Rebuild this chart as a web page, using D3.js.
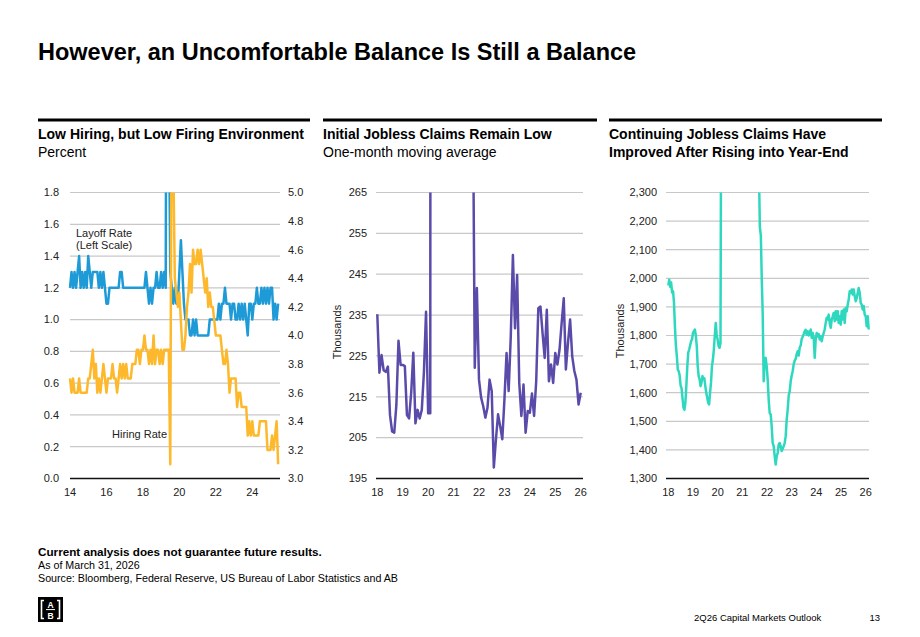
<!DOCTYPE html>
<html><head><meta charset="utf-8">
<script src="https://cdn.jsdelivr.net/npm/d3@7"></script>
<style>
body{margin:0;background:#fff;}
svg{display:block;font-family:"Liberation Sans",Arial,sans-serif;}
</style></head>
<body><svg id="c" width="920" height="637"></svg>
<script>
// ---------- DATA ----------
// Chart 1: monthly, starting Jan 2014 (index = months)
const layoffRate = [
1.2,1.3,1.2,1.3,1.2,1.3,1.4,1.2,1.3,1.2,1.3,1.2,
1.4,1.3,1.2,1.3,1.3,1.3,1.3,1.2,1.3,1.2,1.3,1.2,
1.1,1.1,1.2,1.2,1.2,1.2,1.2,1.2,1.2,1.3,1.3,1.2,
1.2,1.2,1.2,1.2,1.2,1.2,1.2,1.2,1.2,1.2,1.2,1.2,
1.2,1.2,1.3,1.2,1.1,1.2,1.1,1.2,1.2,1.3,1.2,1.2,
1.3,1.2,1.3,1.2,5.0,2.5,1.3,1.2,1.1,1.2,1.1,1.1,
1.3,1.5,1.3,1.1,1.0,1.0,1.0,0.9,0.9,1.0,0.9,1.0,
0.9,0.9,0.9,0.9,0.9,0.9,0.9,0.9,1.0,1.0,1.0,1.0,
1.0,1.0,1.1,1.0,1.1,1.1,1.2,1.1,1.1,1.1,1.0,1.1,
1.1,1.0,1.0,1.1,1.0,1.1,1.0,1.1,1.0,0.9,1.1,1.1,
1.0,1.1,1.1,1.2,1.1,1.1,1.2,1.1,1.2,1.1,1.2,1.1,
1.2,1.2,1.0,1.1,1.0,1.1];
const hiringRate = [
3.7,3.6,3.7,3.6,3.6,3.6,3.7,3.6,3.6,3.6,3.6,3.6,
3.7,3.7,3.8,3.9,3.7,3.8,3.6,3.7,3.6,3.7,3.8,3.7,
3.6,3.7,3.7,3.7,3.8,3.7,3.7,3.6,3.7,3.8,3.7,3.8,
3.7,3.8,3.7,3.7,3.7,3.8,3.8,3.8,3.9,3.9,3.8,3.9,
3.9,4.0,3.9,3.9,3.8,3.9,3.8,4.0,3.8,3.9,3.9,3.8,
3.9,3.8,3.9,3.9,3.9,3.9,3.1,6.0,5.2,4.4,4.3,4.2,
4.3,4.1,3.9,3.9,4.0,4.2,4.3,4.5,4.3,4.6,4.5,4.5,
4.6,4.5,4.6,4.5,4.4,4.3,4.4,4.2,4.3,4.2,4.2,4.1,
4.0,4.0,4.0,4.0,3.9,3.8,3.8,3.9,3.8,3.6,3.7,3.7,
3.7,3.7,3.5,3.6,3.6,3.5,3.5,3.5,3.5,3.3,3.4,3.3,
3.4,3.3,3.3,3.3,3.3,3.4,3.4,3.4,3.4,3.4,3.2,3.2,
3.2,3.3,3.2,3.3,3.4,3.1];
const c1LeftTicks = [0.0,0.2,0.4,0.6,0.8,1.0,1.2,1.4,1.6,1.8];
const c1RightTicks = [3.0,3.2,3.4,3.6,3.8,4.0,4.2,4.4,4.6,4.8,5.0];
const c1XTicks = [14,16,18,20,22,24];

// Chart 2: initial claims, monthly from Jan 2018 (thousands)
const initialClaims = [
235.2,220.9,225.2,221.5,221.1,222.4,210.5,206.5,206.2,213.0,228.7,222.8,
222.8,222.5,210.5,209.7,216.0,225.8,208.5,211.8,209.7,211.8,221.0,235.8,
211.0,211.0,1500,5000,2500,1550,1400,1000,870,790,740,820,
850,790,720,590,480,400,390,360,340,300,
222.1,241.6,219.2,214.8,212.7,209.9,212.3,219.2,216.4,197.7,204.6,210.7,
207.8,204.6,214.3,225.7,216.4,229.8,249.7,231.8,244.8,218.4,210.3,218.0,
206.2,211.5,211.1,215.8,210.3,218.8,236.7,237.1,230.6,224.5,236.3,218.8,
222.9,218.4,225.7,222.9,226.5,233.0,239.1,221.7,228.2,233.9,224.9,221.3,
219.2,213.1,216.0];
const c2YTicks = [195,205,215,225,235,245,255,265];
const c2XTicks = [18,19,20,21,22,23,24,25,26];

// Chart 3: continuing claims (thousands), roughly bi-weekly
const contClaimsA = [ // from start of 2018
1975,1995,1970,1985,1950,1955,1915,1830,1765,1728,1681,1675,1660,1625,
1615,1580,1548,1540,1565,1623,1690,1740,1751,1765,1780,1786,1809,1815,
1821,1800,1763,1693,1658,1647,1623,1635,1658,1647,1650,1623,1600,1583,
1565,1559,1600,1635,1693,1716,1751,1800,1844,1800,1786,1763,1757,1774];
const contClaimsSpikeDates = [20.154,20.2,20.3,20.4,20.5,20.6,20.75,20.9,21.0,21.2,21.4,21.55,21.66,21.71,21.75,21.79];
const contClaimsSpike = [3000,12000,20000,22000,17000,14000,11000,6500,5000,4200,3700,3000,2450,2180,2150,1990];
const contClaimsB = [ // from late 2021
1879,1640,1716,1722,1692,1646,1576,1529,1524,1483,1424,1413,1378,1349,
1378,1389,1419,1424,1413,1396,1405,1413,1424,1448,1506,1541,1590,1605,
1640,1660,1675,1700,1712,1718,1735,1745,1730,1758,1765,1788,1795,1805,
1815,1820,1803,1815,1800,1809,1821,1792,1809,1792,1722,1786,1809,1797,
1805,1786,1797,1780,1797,1809,1821,1844,1862,1856,1873,1844,1827,1856,
1867,1879,1850,1885,1856,1885,1844,1867,1838,1885,1856,1891,1844,1896,
1885,1908,1926,1955,1949,1961,1943,1961,1937,1920,1931,1949,1966,1949,
1914,1908,1891,1903,1873,1867,1832,1867,1821];
const c3YTicks = [1300,1400,1500,1600,1700,1800,1900,2000,2100,2200,2300];
const c3XTicks = [18,19,20,21,22,23,24,25,26];

// ---------- DRAW ----------
const svg = d3.select("#c");
const TOP = 192.5, BOT = 478.5;
const gridCol = "#c8c8c8", txtCol = "#222";

// Title
svg.append("text").attr("x",38).attr("y",60).attr("font-size",23.5).attr("font-weight","bold")
  .attr("fill","#000").text("However, an Uncomfortable Balance Is Still a Balance");

// Section rules + subtitles
const sections = [
  {x0:38,x1:310,lines:[["Low Hiring, but Low Firing Environment",true],["Percent",false]]},
  {x0:323,x1:597,lines:[["Initial Jobless Claims Remain Low",true],["One-month moving average",false]]},
  {x0:609,x1:882,lines:[["Continuing Jobless Claims Have",true],["Improved After Rising into Year-End",true]]}
];
sections.forEach(s=>{
  svg.append("line").attr("x1",s.x0).attr("x2",s.x1).attr("y1",120).attr("y2",120)
    .attr("stroke","#000").attr("stroke-width",3);
  s.lines.forEach((l,i)=>{
    svg.append("text").attr("x",s.x0).attr("y",139+i*18).attr("font-size",14)
      .attr("font-weight",l[1]?"bold":"normal").attr("fill","#000").text(l[0]);
  });
});

const defs = svg.append("defs");
function clip(id,x0,x1){
  defs.append("clipPath").attr("id",id).append("rect")
    .attr("x",x0).attr("y",TOP).attr("width",x1-x0).attr("height",BOT-TOP+5);
}

function grid(g, y, ticks, x0, x1){
  ticks.forEach(t=>{
    g.append("line").attr("x1",x0).attr("x2",x1).attr("y1",y(t)).attr("y2",y(t))
      .attr("stroke", t===ticks[0] ? "#111" : gridCol)
      .attr("stroke-width", t===ticks[0] ? 1.6 : 1.2);
  });
}
function yLabels(g, y, ticks, x, anchor, fmt){
  ticks.forEach(t=>{
    g.append("text").attr("x",x).attr("y",y(t)).attr("dy","0.35em").attr("text-anchor",anchor)
      .attr("font-size",11).attr("fill",txtCol).text(fmt(t));
  });
}
function xLabels(g, x, ticks){
  ticks.forEach(t=>{
    g.append("text").attr("x",x(t)).attr("y",496).attr("text-anchor","middle")
      .attr("font-size",11).attr("fill",txtCol).text(t);
  });
}

// ----- Chart 1 -----
{
  const g = svg.append("g");
  const x = d3.scaleLinear().domain([14,24]).range([70,252.3]);
  const yL = d3.scaleLinear().domain([0,1.8]).range([BOT,TOP]);
  const yR = d3.scaleLinear().domain([3,5]).range([BOT,TOP]);
  grid(g, yL, c1LeftTicks, 70, 280);
  yLabels(g, yL, c1LeftTicks, 59, "end", d3.format(".1f"));
  yLabels(g, yR, c1RightTicks, 288, "start", d3.format(".1f"));
  xLabels(g, x, c1XTicks);
  clip("clip1", 64, 286);
  const lg = g.append("g").attr("clip-path","url(#clip1)");
  lg.append("path").datum(layoffRate)
    .attr("d", d3.line().x((d,i)=>x(14+i/12)).y(d=>yL(d)))
    .attr("fill","none").attr("stroke","#1E9BD7").attr("stroke-width",2.5).attr("stroke-linejoin","round");
  lg.append("path").datum(hiringRate)
    .attr("d", d3.line().x((d,i)=>x(14+i/12)).y(d=>yR(d)))
    .attr("fill","none").attr("stroke","#FDB92B").attr("stroke-width",2.5).attr("stroke-linejoin","round");
  g.append("text").attr("x",76).attr("y",237).attr("font-size",11).attr("fill",txtCol).text("Layoff Rate");
  g.append("text").attr("x",76).attr("y",249).attr("font-size",11).attr("fill",txtCol).text("(Left Scale)");
  g.append("text").attr("x",112).attr("y",438).attr("font-size",11).attr("fill",txtCol).text("Hiring Rate");
}

// ----- Chart 2 -----
{
  const g = svg.append("g");
  const x = d3.scaleLinear().domain([18,26]).range([377.3,580.7]);
  const y = d3.scaleLinear().domain([195,265]).range([BOT,TOP]);
  grid(g, y, c2YTicks, 376, 583);
  yLabels(g, y, c2YTicks, 367, "end", d=>d);
  xLabels(g, x, c2XTicks);
  g.append("text").attr("transform","translate(341,332) rotate(-90)").attr("text-anchor","middle")
    .attr("font-size",11).attr("fill",txtCol).text("Thousands");
  clip("clip2", 370, 590);
  g.append("g").attr("clip-path","url(#clip2)").append("path").datum(initialClaims)
    .attr("d", d3.line().x((d,i)=>x(18+i/12)).y(d=>y(d)))
    .attr("fill","none").attr("stroke","#5A4BAA").attr("stroke-width",2.5).attr("stroke-linejoin","round");
}

// ----- Chart 3 -----
{
  const g = svg.append("g");
  const x = d3.scaleLinear().domain([18,26]).range([668.3,865.7]);
  const y = d3.scaleLinear().domain([1300,2300]).range([BOT,TOP]);
  grid(g, y, c3YTicks, 666, 869);
  yLabels(g, y, c3YTicks, 657, "end", d3.format(","));
  xLabels(g, x, c3XTicks);
  g.append("text").attr("transform","translate(624,331) rotate(-90)").attr("text-anchor","middle")
    .attr("font-size",11).attr("fill",txtCol).text("Thousands");
  const pts = [];
  contClaimsA.forEach((v,i)=>pts.push([18+i/26, v]));
  contClaimsSpike.forEach((v,i)=>pts.push([contClaimsSpikeDates[i], v]));
  contClaimsB.forEach((v,i)=>pts.push([21.825+i*3/74, v]));
  clip("clip3", 660, 876);
  g.append("g").attr("clip-path","url(#clip3)").append("path").datum(pts)
    .attr("d", d3.line().x(d=>x(d[0])).y(d=>y(d[1])))
    .attr("fill","none").attr("stroke","#2ED8BE").attr("stroke-width",2.5).attr("stroke-linejoin","round");
}

// ----- Footer -----
svg.append("text").attr("x",38).attr("y",556).attr("font-size",11.7).attr("font-weight","bold")
  .attr("fill","#000").text("Current analysis does not guarantee future results.");
svg.append("text").attr("x",38).attr("y",569).attr("font-size",10.7).attr("fill","#000").text("As of March 31, 2026");
svg.append("text").attr("x",38).attr("y",582).attr("font-size",10.7).attr("fill","#000")
  .text("Source: Bloomberg, Federal Reserve, US Bureau of Labor Statistics and AB");

// logo
const lg = svg.append("g");
lg.append("rect").attr("x",38).attr("y",597).attr("width",25).attr("height",25).attr("fill","#000");
lg.append("path").attr("d","M44,600.5 h-2.5 v18 h2.5").attr("fill","none").attr("stroke","#fff").attr("stroke-width",1.6);
lg.append("path").attr("d","M57,600.5 h2.5 v18 h-2.5").attr("fill","none").attr("stroke","#fff").attr("stroke-width",1.6);
lg.append("text").attr("x",50.5).attr("y",607.8).attr("text-anchor","middle").attr("font-size",8.5)
  .attr("font-weight","bold").attr("fill","#fff").text("A");
lg.append("line").attr("x1",46).attr("x2",55).attr("y1",609.6).attr("y2",609.6).attr("stroke","#fff").attr("stroke-width",1);
lg.append("text").attr("x",50.5).attr("y",618.8).attr("text-anchor","middle").attr("font-size",8.5)
  .attr("font-weight","bold").attr("fill","#fff").text("B");

svg.append("text").attr("x",694).attr("y",621).attr("font-size",9.5).attr("fill","#000").text("2Q26 Capital Markets Outlook");
svg.append("text").attr("x",880).attr("y",621).attr("text-anchor","end").attr("font-size",9.5).attr("fill","#000").text("13");
</script>
</body></html>
